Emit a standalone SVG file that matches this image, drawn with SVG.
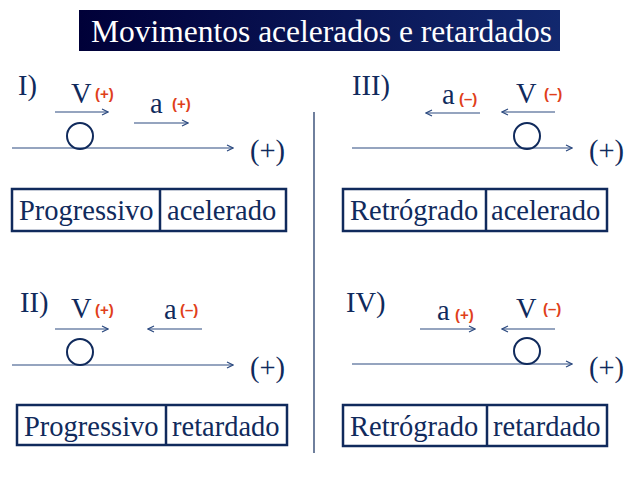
<svg xmlns="http://www.w3.org/2000/svg" width="638" height="479" viewBox="0 0 638 479">
<style>
.t{font-family:"Liberation Serif","Times New Roman",serif;fill:#102a5c;font-size:28.5px}
.r{font-family:"Liberation Sans",Arial,sans-serif;font-weight:bold;fill:#e0401a;font-size:15px}
.ln{stroke:#2c4a80;stroke-width:1.2;fill:none}
.bx{stroke:#102a5c;stroke-width:2.5;fill:none}
.c{stroke:#102a5c;stroke-width:2;fill:none}
</style>
<defs>
<linearGradient id="g" x1="0" y1="0" x2="1" y2="0">
<stop offset="0" stop-color="#000038"/>
<stop offset="1" stop-color="#12286e"/>
</linearGradient>
<marker id="ah" viewBox="0 0 8 8" refX="7" refY="4" markerWidth="8" markerHeight="8" markerUnits="userSpaceOnUse" orient="auto">
<path d="M1,1 L7,4 L1,7" fill="none" stroke="#2c4a80" stroke-width="1.2"/>
</marker>
</defs>
<rect width="638" height="479" fill="#ffffff"/>
<g id="title">
<rect x="79" y="10" width="481" height="41" fill="url(#g)"/>
<text x="91" y="42" style="font-family:'Liberation Serif','Times New Roman',serif;font-size:31.5px;fill:#ffffff">Movimentos acelerados e retardados</text>
</g>
<g id="connectors">
<line class="ln" x1="314" y1="112" x2="314" y2="453" style="stroke:#102a5c"/>
<line class="ln" x1="55" y1="112" x2="108" y2="112" marker-end="url(#ah)"/>
<line class="ln" x1="134" y1="123" x2="188" y2="123" marker-end="url(#ah)"/>
<line class="ln" x1="12" y1="148" x2="233" y2="148" marker-end="url(#ah)"/>
<line class="ln" x1="480" y1="113" x2="426" y2="113" marker-end="url(#ah)"/>
<line class="ln" x1="555" y1="112" x2="502" y2="112" marker-end="url(#ah)"/>
<line class="ln" x1="352" y1="148" x2="572" y2="148" marker-end="url(#ah)"/>
<line class="ln" x1="55" y1="329" x2="108" y2="329" marker-end="url(#ah)"/>
<line class="ln" x1="202" y1="329" x2="148" y2="329" marker-end="url(#ah)"/>
<line class="ln" x1="12" y1="365" x2="233" y2="365" marker-end="url(#ah)"/>
<line class="ln" x1="420" y1="329" x2="475" y2="329" marker-end="url(#ah)"/>
<line class="ln" x1="555" y1="329" x2="502" y2="329" marker-end="url(#ah)"/>
<line class="ln" x1="352" y1="364" x2="572" y2="364" marker-end="url(#ah)"/>
</g>
<g id="panel1">
<text class="t" x="18" y="95">I)</text>
<text class="t" x="71" y="103">V</text>
<text class="r" x="95" y="99">(+)</text>
<text class="t" x="150" y="113">a</text>
<text class="r" x="172" y="109">(+)</text>
<circle class="c" cx="80" cy="136" r="13"/>
<text class="t" x="250" y="160">(+)</text>
<rect class="bx" x="12" y="189" width="274" height="42"/>
<line class="bx" x1="160" y1="189" x2="160" y2="231"/>
<text class="t" x="19" y="220">Progressivo</text>
<text class="t" x="167" y="220">acelerado</text>
</g>
<g id="panel3">
<text class="t" x="352" y="95">III)</text>
<text class="t" x="442" y="104">a</text>
<text class="r" x="459" y="104">(–)</text>
<text class="t" x="516" y="103">V</text>
<text class="r" x="544" y="99">(–)</text>
<circle class="c" cx="527" cy="136" r="13"/>
<text class="t" x="589" y="160">(+)</text>
<rect class="bx" x="343" y="189" width="264" height="42"/>
<line class="bx" x1="486" y1="189" x2="486" y2="231"/>
<text class="t" x="350" y="220">Retrógrado</text>
<text class="t" x="491" y="220">acelerado</text>
</g>
<g id="panel2">
<text class="t" x="20" y="312">II)</text>
<text class="t" x="71" y="318">V</text>
<text class="r" x="95" y="315">(+)</text>
<text class="t" x="164" y="319">a</text>
<text class="r" x="180" y="315">(–)</text>
<circle class="c" cx="80" cy="352" r="13"/>
<text class="t" x="250" y="377">(+)</text>
<rect class="bx" x="17" y="405" width="270" height="40"/>
<line class="bx" x1="166" y1="405" x2="166" y2="445"/>
<text class="t" x="24" y="436">Progressivo</text>
<text class="t" x="172" y="436">retardado</text>
</g>
<g id="panel4">
<text class="t" x="346" y="312">IV)</text>
<text class="t" x="437" y="320">a</text>
<text class="r" x="455" y="320">(+)</text>
<text class="t" x="516" y="318">V</text>
<text class="r" x="543" y="314">(–)</text>
<circle class="c" cx="527" cy="351" r="13"/>
<text class="t" x="589" y="377">(+)</text>
<rect class="bx" x="343" y="405" width="264" height="41"/>
<line class="bx" x1="487" y1="405" x2="487" y2="446"/>
<text class="t" x="350" y="436">Retrógrado</text>
<text class="t" x="493" y="436">retardado</text>
</g>
</svg>
